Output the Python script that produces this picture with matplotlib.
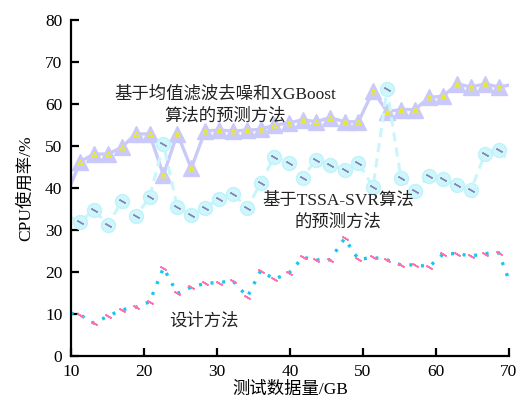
import numpy as np
import matplotlib
matplotlib.use('Agg')
import matplotlib.pyplot as plt

plt.rcParams['font.family'] = ['Liberation Serif', 'Noto Sans CJK SC']
plt.rcParams['font.size'] = 12.5

# x positions of the data points (GB); the end points carry no marker
x_pts = [10, 11.3, 13.2, 15.1, 17.0, 18.9, 20.8, 22.7, 24.6, 26.5, 28.4, 30.3,
         32.2, 34.2, 36.0, 37.9, 39.9, 41.8, 43.6, 45.5, 47.5, 49.4, 51.4,
         53.3, 55.2, 57.1, 59.1, 61.0, 62.9, 64.8, 66.7, 68.6, 70]

# XGBoost based method
cpu_xgb = [40.7, 46.3, 48.1, 48.1, 49.7, 52.9, 52.9, 43.1, 53.0, 44.7, 53.6,
           53.8, 53.6, 53.8, 54.0, 55.0, 55.5, 56.3, 55.8, 56.8, 55.8, 55.8,
           63.2, 58.2, 58.7, 58.7, 61.6, 61.9, 64.8, 64.1, 64.8, 64.1, 64.5]

# TSSA-SVR based method
cpu_svr = [33.0, 32.0, 34.8, 31.2, 36.9, 33.3, 37.8, 50.5, 35.4, 33.6, 35.2,
           37.5, 38.7, 35.2, 41.3, 47.5, 46.0, 42.5, 46.8, 45.5, 44.3, 46.0,
           40.3, 63.5, 42.5, 39.4, 42.9, 42.1, 40.7, 39.5, 48.1, 49.0, 46.5]

# designed method
cpu_des = [10.2, 9.8, 7.8, 9.5, 11.0, 11.6, 12.9, 21.0, 14.9, 16.4, 17.3,
           17.5, 17.9, 14.1, 20.3, 18.3, 19.8, 23.5, 22.9, 22.9, 28.0, 23.0,
           23.5, 22.9, 21.7, 21.7, 21.3, 24.3, 24.4, 23.8, 24.4, 24.6, 18.1]

x_ticks = [10, 20, 30, 40, 50, 60, 70]
y_ticks = [0, 10, 20, 30, 40, 50, 60, 70, 80]

fig = plt.figure(figsize=(5.22, 4.03), dpi=100)
ax = fig.add_axes([0.1354, 0.1166, 0.8396, 0.8334])

mk = list(range(1, len(x_pts) - 1))
xm = np.array(x_pts)[mk]

# XGBoost curve
ax.plot(x_pts, cpu_xgb, color='#cacafa', lw=2.4, marker='^', markersize=11,
        markerfacecolor='#cacafa', markeredgecolor='#cacafa', markevery=mk,
        zorder=2)
ax.plot(xm, np.array(cpu_xgb)[mk], ls='none', marker='^',
        markersize=3.5, markerfacecolor='none', markeredgecolor='#eeee10',
        markeredgewidth=0.9, zorder=3)

# TSSA-SVR curve
ax.plot(x_pts, cpu_svr, color='#c8f6fb', lw=2.2, ls=(0, (3, 2)), marker='o',
        markersize=10, markerfacecolor='#cdf7fc', markeredgecolor='#c0f2fa',
        markevery=mk, zorder=2)
ax.plot(xm, np.array(cpu_svr)[mk], ls='none',
        marker=(2, 2, 60), markersize=5, markeredgecolor='#8886b0',
        markeredgewidth=1.0, zorder=3)

# designed method
ax.plot(x_pts, cpu_des, color='#18c6f6', lw=2.4, ls=(0, (0.9, 2.6)),
        zorder=2)
ax.plot(xm, np.array(cpu_des)[mk], ls='none',
        marker=(2, 2, 60), markersize=5, markeredgecolor='#ff70ac',
        markeredgewidth=1.2, zorder=3)

ax.text(31.1, 59.8, '基于均值滤波去噪和XGBoost\n算法的预测方法', ha='center',
        va='center', color='#222222', linespacing=1.45)
ax.text(46.6, 34.4, '基于TSSA-SVR算法\n的预测方法', ha='center', va='center',
        color='#222222', linespacing=1.4)
ax.text(28.2, 8.3, '设计方法', ha='center', va='center', color='#222222')

ax.set_xlim(10, 70)
ax.set_ylim(0, 80)
ax.set_xticks(x_ticks)
ax.set_yticks(y_ticks)
ax.spines['top'].set_visible(False)
ax.spines['right'].set_visible(False)
ax.spines['left'].set_linewidth(1.6)
ax.spines['bottom'].set_linewidth(1.6)
ax.tick_params(direction='in', length=6, width=1.6, pad=6)
ax.set_xlabel('测试数据量/GB', labelpad=1)
ax.set_ylabel('CPU使用率/%', labelpad=8)

fig.savefig('out.png', dpi=100)
